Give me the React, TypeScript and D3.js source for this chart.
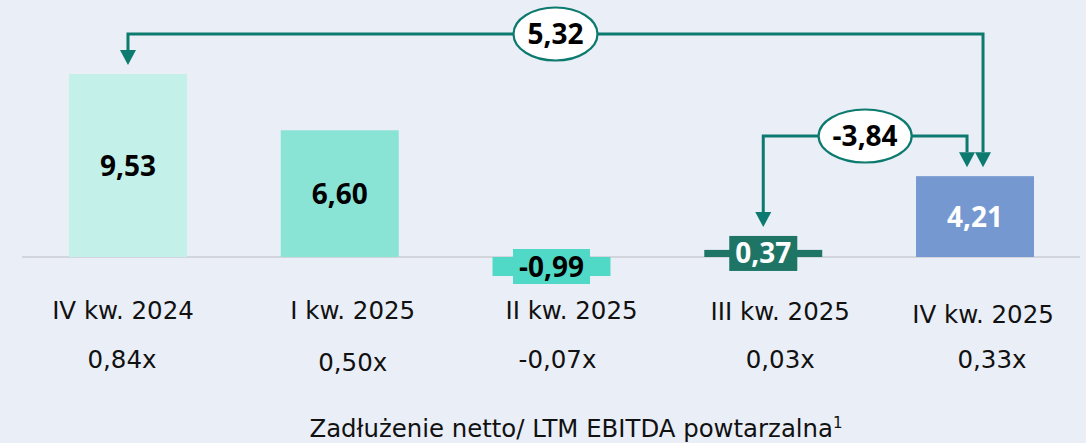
import React, { useEffect, useRef } from "react";
import * as d3 from "d3";

// ---- data ----
const categories = ["IV kw. 2024", "I kw. 2025", "II kw. 2025", "III kw. 2025", "IV kw. 2025"];
const values = [9.53, 6.6, -0.99, 0.37, 4.21];
const valueLabels = ["9,53", "6,60", "-0,99", "0,37", "4,21"];
const ratioLabels = ["0,84x", "0,50x", "-0,07x", "0,03x", "0,33x"];
const changeFrom = [0, 3];
const changeTo = [4, 4];
const changeLabels = ["5,32", "-3,84"];
const footnote = "Zadłużenie netto/ LTM EBITDA powtarzalna";

// ---- styles / layout ----
const W = 1086;
const H = 443;
const BG = "#eaeef6";
const barColors = ["#c3f0e9", "#89e4d6", "#50d9c6", "#1e7566", "#7498cf"];
const valueTextColors = ["#000", "#000", "#000", "#fff", "#fff"];
const boxedLabel = [false, false, true, true, false];
const ARROW = "#0c7a6e";
const catDx = [-5, 13, 20, 17, 8];
const catDy = [0, 0, 0, 1, 4];
const ratioDx = [-6, 13, 6, 17, 17];
const ratioDy = [0, 3, 0, 0, 0];
const connectorY = [34, 136];
const endDx = [8, -8];

export default function App() {
  const ref = useRef<SVGSVGElement | null>(null);

  useEffect(() => {
    const svg = d3.select(ref.current);
    svg.selectAll("*").remove();

    const x = d3
      .scaleBand<string>()
      .domain(categories)
      .range([22.1, 1080.9])
      .paddingInner(0.443)
      .paddingOuter(0.2215);
    const y = d3.scaleLinear().domain([0, 10]).range([257, 65]);
    const cx = (i: number) => (x(categories[i]) as number) + x.bandwidth() / 2;

    svg.append("rect").attr("width", W).attr("height", H).attr("fill", BG);

    // baseline
    svg
      .append("line")
      .attr("x1", 22)
      .attr("x2", 1080)
      .attr("y1", y(0))
      .attr("y2", y(0))
      .attr("stroke", "#d2d5db")
      .attr("stroke-width", 2);

    const valueFont = "'Open Sans', 'Noto Sans', sans-serif";
    const labelFont = "'DejaVu Sans', Verdana, sans-serif";
    const VFS = 28;

    const boxTops: number[] = [];

    values.forEach((v, i) => {
      const x0 = x(categories[i]) as number;
      const top = Math.min(y(v), y(0));
      const h = Math.abs(y(v) - y(0));
      svg
        .append("rect")
        .attr("x", x0)
        .attr("y", top)
        .attr("width", x.bandwidth())
        .attr("height", h)
        .attr("fill", barColors[i]);
      const midY = top + h / 2;
      const t = svg
        .append("text")
        .attr("x", cx(i))
        .attr("y", midY + VFS * 0.357)
        .attr("text-anchor", "middle")
        .attr("font-family", valueFont)
        .attr("font-weight", 700)
        .attr("font-size", VFS)
        .attr("fill", valueTextColors[i])
        .text(valueLabels[i]);
      boxTops[i] = top;
      if (boxedLabel[i]) {
        const bw = (t.node() as SVGTextElement).getComputedTextLength() + 12;
        const bh = 35;
        svg
          .insert("rect", () => t.node() as any)
          .attr("x", cx(i) - bw / 2)
          .attr("y", midY - bh / 2)
          .attr("width", bw)
          .attr("height", bh)
          .attr("fill", barColors[i]);
        boxTops[i] = midY - bh / 2;
      }
    });

    // category + ratio labels
    categories.forEach((c, i) => {
      svg
        .append("text")
        .attr("x", cx(i) + catDx[i])
        .attr("y", 319 + catDy[i])
        .attr("text-anchor", "middle")
        .attr("font-family", labelFont)
        .attr("font-size", 24.5)
        .attr("fill", "#111")
        .text(c);
      svg
        .append("text")
        .attr("x", cx(i) + ratioDx[i])
        .attr("y", 368 + ratioDy[i])
        .attr("text-anchor", "middle")
        .attr("font-family", labelFont)
        .attr("font-size", 24.5)
        .attr("fill", "#111")
        .text(ratioLabels[i]);
    });

    // footnote
    const ft = svg
      .append("text")
      .attr("x", 576)
      .attr("y", 437)
      .attr("text-anchor", "middle")
      .attr("font-family", labelFont)
      .attr("font-size", 24.4)
      .attr("fill", "#111");
    ft.append("tspan").text(footnote);
    ft.append("tspan").attr("font-size", 15).attr("dy", -9).text("1");

    // change connectors
    const AH = 15;
    const AW = 16;
    const drawArrowHead = (px: number, py: number) => {
      svg
        .append("path")
        .attr("d", `M${px - AW / 2},${py - AH} L${px + AW / 2},${py - AH} L${px},${py} Z`)
        .attr("fill", ARROW);
    };
    changeFrom.forEach((f, k) => {
      const t = changeTo[k];
      const xa = cx(f);
      const xb = cx(t) + endDx[k];
      const ly = connectorY[k];
      const ya = boxTops[f] - 9;
      const yb = boxTops[t] - 9;
      svg
        .append("path")
        .attr("d", `M${xa},${ya - AH} L${xa},${ly} L${xb},${ly} L${xb},${yb - AH}`)
        .attr("fill", "none")
        .attr("stroke", ARROW)
        .attr("stroke-width", 3);
      drawArrowHead(xa, ya);
      drawArrowHead(xb, yb);
      const mx = (xa + xb) / 2;
      const g = svg.append("g");
      const el = g.append("ellipse").attr("cx", mx).attr("cy", ly).attr("fill", "#fff").attr("stroke", ARROW).attr("stroke-width", 2.2);
      const tt = g
        .append("text")
        .attr("x", mx)
        .attr("y", ly + VFS * 0.357)
        .attr("text-anchor", "middle")
        .attr("font-family", valueFont)
        .attr("font-weight", 700)
        .attr("font-size", VFS)
        .attr("fill", "#000")
        .text(changeLabels[k]);
      const tw = (tt.node() as SVGTextElement).getComputedTextLength();
      el.attr("rx", tw / 2 + 14).attr("ry", 26.5);
    });
  }, []);

  return (
    <svg
      ref={ref}
      width={W}
      height={H}
      style={{ position: "absolute", left: 0, top: 0, display: "block" }}
    />
  );
}
